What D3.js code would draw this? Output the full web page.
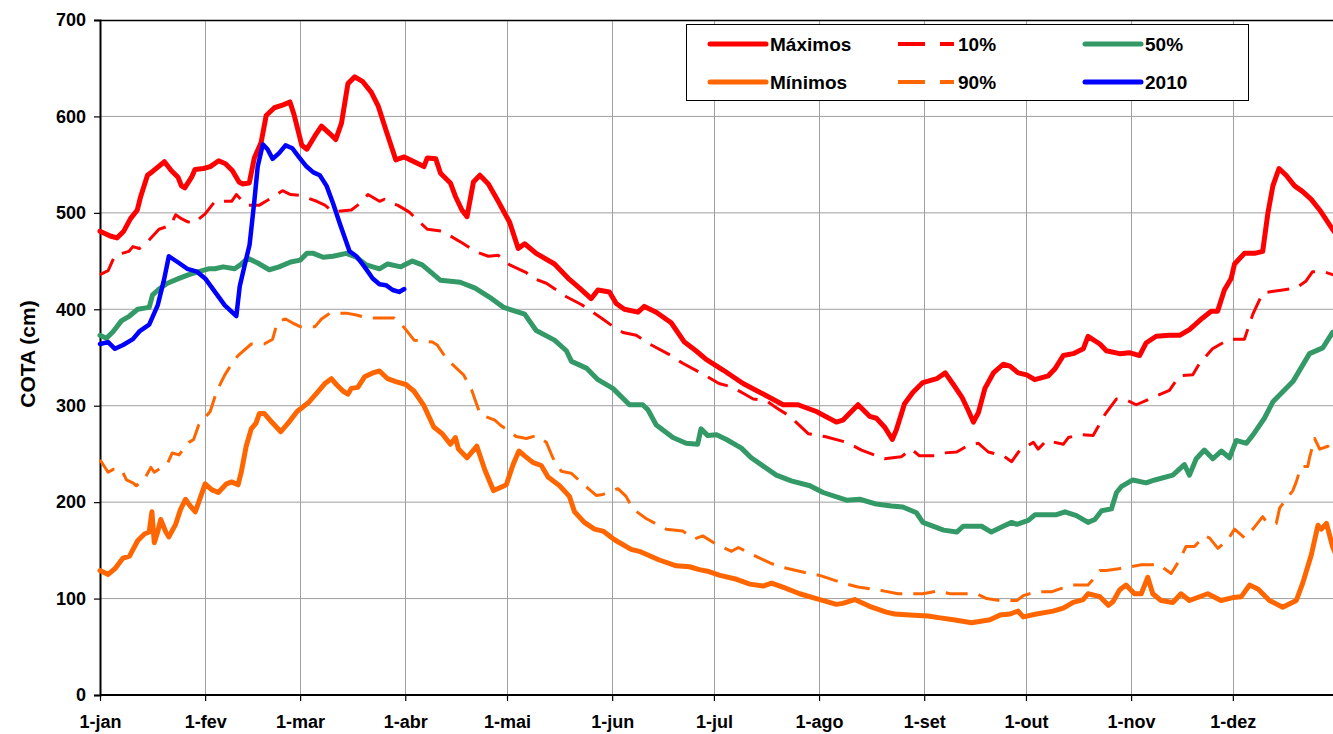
<!DOCTYPE html>
<html lang="pt">
<head>
  <meta charset="UTF-8">
  <title>COTA (cm)</title>
  <script src="https://cdnjs.cloudflare.com/ajax/libs/d3/7.8.5/d3.min.js"></script>
  <style>
    html, body { margin: 0; padding: 0; background: #fff; }
    svg text { font-family: "Liberation Sans", Arial, sans-serif; font-weight: bold; fill: #000; }
  </style>
</head>
<body>
  <div id="chart"></div>
  <script>
    // month ticks (day of year) and labels
    const monthDays = [0, 31, 59, 90, 120, 151, 181, 212, 243, 273, 304, 334];
    const monthLabels = ["1-jan", "1-fev", "1-mar", "1-abr", "1-mai", "1-jun", "1-jul", "1-ago", "1-set", "1-out", "1-nov", "1-dez"];
    const yTicks = [0, 100, 200, 300, 400, 500, 600, 700];

    // series: [day of year, cota in cm]
    const maximos = [[0,481],[3,476],[5,474],[7,481],[9,494],[11,503],[12,517],[14,539],[15.5,543],[19,553],[21,544],[23,537],[24,528],[25,526],[27,537],[28,545],[30.5,546],[32.5,548],[35,554],[37,551],[39,544],[41,532],[42,530],[44,531],[45.5,557],[47.5,573],[49,601],[51.4,609],[54,612],[56,615],[57.2,602],[59.5,570],[61,566],[63.4,580],[65.3,590],[67.8,582],[69.5,576],[71.2,593],[73.1,634],[75.1,641],[77.5,636],[80,625],[82,611],[84.3,586],[87.2,555],[89.7,558],[92.6,553],[95.5,548],[96.5,557],[99,556],[100.4,541],[103.3,531],[104.8,517],[106.7,503],[108.2,496],[110.1,532],[112,539],[114.5,530],[117.4,512],[120.8,490],[123.3,463],[125.2,468],[128.6,458],[134,447],[138.4,431],[141.4,422],[144.8,411],[146.8,420],[150.2,418],[152.2,406],[154.6,400],[158.6,397],[160.5,403],[164,397],[168.4,386],[172.3,366],[175.7,357],[178.7,348],[183.7,337],[189.6,323],[194.5,314],[201.4,301],[205.8,301],[211.2,294],[217.1,283],[219,285],[223.5,301],[226.9,289],[228.9,287],[231.3,278],[233.6,265],[234.8,275],[237.2,302],[239.7,314],[242.6,324],[246.7,328],[249.2,334],[251.6,322],[254.1,309],[256,295],[257.5,283],[259,293],[260.9,318],[263.4,334],[266.3,343],[268.3,341],[270.7,334],[273.2,332],[275.6,327],[279.6,331],[281.5,338],[284,352],[286.9,354],[289.9,359],[291.3,372],[294.8,364],[296.7,357],[300.6,354],[303.5,355],[306.5,352],[308.4,365],[311.4,372],[315.3,373],[318.3,373],[321.2,379],[325.1,391],[327.6,398],[329.5,398],[331.5,420],[333.5,432],[334.5,447],[337.4,458],[340.4,458],[342.8,460],[344.3,499],[345.8,528],[347.6,546],[349.7,539],[352.2,528],[354.6,522],[357.1,514],[359.6,503],[363.4,483],[365,475]];

    const minimos = [[0,129],[2.4,125],[4.4,131],[6.8,142],[8.7,144],[11.1,160],[13.1,167],[14.5,169],[15.3,190],[16,158],[17,169],[17.9,182],[19.4,169],[20.3,164],[22.3,177],[23.7,192],[25.2,203],[26.6,196],[28.1,190],[29.6,205],[31,219],[32.9,213],[34.9,210],[37.3,219],[38.8,221],[40.7,218],[41.7,232],[43.1,258],[44.6,276],[46,282],[47,292],[48.4,292],[50.9,282],[53.3,273],[55.7,283],[58.1,294],[61.4,303],[63.9,313],[66.3,323],[68.2,328],[69.7,322],[71.7,315],[73.1,312],[74.1,318],[76,319],[78,330],[80.4,334],[82.4,336],[84.8,328],[87.2,325],[90.2,322],[92.6,315],[95.5,300],[98.4,278],[100.9,271],[103.3,260],[104.8,267],[105.7,255],[108.2,246],[111.1,258],[113.5,233],[116,212],[117.9,215],[119.8,218],[121.8,239],[123.5,253],[125.2,248],[127.7,241],[130.1,238],[132.1,226],[135.5,217],[138.4,206],[139.9,190],[142.8,179],[145.8,172],[148.3,170],[151.7,161],[156.6,151],[159,149],[164.9,140],[169.9,134],[173.8,133],[176.7,130],[179.5,128],[182.8,124],[187.7,120],[191.6,115],[195.5,113],[198,116],[201.9,111],[206.3,105],[211.2,100],[217.1,94],[219,95],[222.5,99],[226.9,92],[231.8,86],[234.3,84],[238.7,83],[244.1,82],[247.7,80],[251.6,78],[257,75],[262.4,78],[265.4,83],[268.3,84],[270.7,87],[272.2,81],[276.1,84],[281,87],[284,90],[286.9,96],[289.9,99],[291.3,105],[294.8,102],[297.3,93],[298.7,97],[300.6,109],[302.5,114],[305,105],[307,105],[308.9,122],[310.4,105],[312.8,98],[316.3,96],[318.7,105],[321.2,98],[326.6,105],[330.5,98],[334,101],[336.5,102],[338.9,114],[341.4,110],[344.8,98],[348.7,91],[352.7,98],[354.6,116],[357.1,145],[359.1,176],[360.1,172],[361.6,178],[363.4,154],[365,140]];

    const p10 = [[0,436],[2.4,440],[4.4,456],[6.5,458],[8.5,460],[9.7,465],[11.6,463],[14,470],[17.4,483],[20.8,487],[22.3,498],[24,494],[25.7,491],[27.6,489],[31,499],[33.9,512],[38.8,512],[40.2,519],[43.1,508],[47,508],[49.4,513],[53.8,523],[56.2,519],[59.1,518],[63.9,512],[66.3,508],[68.7,501],[74.1,503],[76,508],[79,519],[82.4,512],[83.8,514],[85.8,510],[87.7,508],[91.1,501],[96.5,483],[100.9,481],[106.7,469],[110.6,460],[114.5,455],[117.4,456],[120.8,446],[125.7,438],[127.2,433],[131.6,427],[137.5,413],[141.9,405],[147.8,391],[151.7,381],[154.2,376],[158.1,373],[162,364],[168.4,352],[171.8,344],[178.2,332],[182.5,323],[185.7,320],[189.1,314],[192.6,307],[196.5,305],[199.4,298],[203.4,289],[208.8,271],[213.7,268],[220.1,262],[224.5,254],[231.3,245],[236.2,247],[239.2,255],[241.6,248],[246.2,248],[248.7,251],[252.6,252],[256,259],[259,261],[261.9,252],[266.3,248],[268.8,242],[271.2,254],[275.2,262],[276.6,255],[279.1,264],[284,260],[285.5,267],[288.9,270],[292.8,269],[296.3,291],[299.7,307],[302,307],[305.5,301],[309.4,307],[315.3,316],[318.3,331],[322.2,332],[324.2,344],[328,359],[332.9,369],[337.4,369],[339.9,395],[342.8,417],[348.7,420],[352.6,422],[355.5,429],[357.5,439],[360.9,439],[363.4,436],[365,434]];

    const p90 = [[0,244],[2.4,231],[3.9,234],[6.3,234],[7.8,223],[9.7,220],[10.7,217],[13.1,224],[15,236],[16,231],[19.9,240],[21.3,251],[23.3,249],[26.2,262],[27.6,265],[29.1,280],[32.5,294],[34.4,315],[36.8,332],[38.8,343],[40.7,352],[44.6,364],[48.4,364],[50.9,369],[52.3,387],[54.7,390],[56.7,386],[59,382],[63.4,382],[65.3,390],[67.8,396],[72.6,396],[75.6,394],[79,391],[83.3,391],[86.8,391],[89.7,381],[92.6,368],[98,366],[99.4,363],[102.3,348],[107.2,332],[109.6,316],[112.1,291],[116.4,285],[118,280],[120.8,273],[122.7,268],[125.7,266],[128.6,269],[131.6,262],[133.5,246],[136,232],[138.9,230],[142.4,219],[146.3,207],[148.3,208],[152.7,214],[155.1,206],[157.1,193],[161,183],[166.9,172],[171.8,170],[175.3,162],[177.7,165],[181.8,156],[186.2,149],[188.2,153],[192.1,146],[197.5,137],[200.4,133],[207.8,127],[212.2,124],[219.1,116],[223.5,112],[230.9,108],[235.3,105],[242.6,105],[247.2,108],[250.6,105],[254.1,105],[258.5,105],[261.4,100],[265.4,98],[270.3,98],[272.2,103],[276.1,107],[280.5,107],[283,110],[286.9,114],[291.3,114],[292.8,120],[294.8,129],[296.7,129],[300.4,131],[304,133],[307,135],[309.9,135],[311.9,136],[315.8,126],[318.3,140],[320.2,154],[322.7,154],[325.6,165],[327.1,163],[329.6,152],[332.5,161],[334.5,172],[337.4,163],[339.9,172],[342.8,185],[343.8,180],[346.8,178],[347.8,194],[349.7,203],[351.7,212],[352.7,221],[354.1,237],[356.1,237],[356.6,246],[358.1,266],[359.6,255],[362,258],[363.4,250],[365,255]];

    const p50 = [[0,373],[1.9,370],[3.9,377],[6.3,388],[8.7,393],[11.1,400],[14.5,402],[15.5,415],[17.4,421],[19.9,427],[23.3,432],[26.2,436],[29.1,439],[32,442],[33.9,442],[36.3,444],[39.7,442],[41.7,447],[43.6,453],[46.5,448],[49.9,441],[52.8,444],[56.2,449],[59,451],[61,458],[62.9,458],[65.8,454],[68.7,455],[72.6,458],[75.6,454],[78.5,446],[82.4,442],[84.8,447],[88.7,444],[92.1,450],[95,446],[100.4,430],[106.2,428],[110.6,422],[115.5,411],[119,402],[125.2,395],[128.6,378],[134,368],[137.5,357],[139,346],[143.4,339],[146.8,327],[151.2,318],[156.1,301],[160,301],[161.5,296],[164,280],[168.9,267],[172.8,261],[176.2,260],[177.2,276],[179.2,269],[181.8,270],[184.7,265],[189.1,256],[192,246],[199.4,228],[203.8,222],[209.3,217],[213.2,210],[220.1,202],[224,203],[228.9,198],[233.3,196],[236.7,195],[240.7,189],[242.6,179],[248.7,171],[252.6,169],[254.5,175],[259.9,175],[262.8,169],[266.3,175],[268.8,179],[270.3,177],[273.7,181],[275.7,187],[282,187],[284.5,190],[287.9,186],[291.3,179],[293.3,182],[295.3,191],[298.2,193],[299.7,210],[301.1,216],[304.5,223],[308.4,220],[311,223],[316.3,228],[319.7,239],[321.2,228],[323.2,245],[325.6,254],[328.1,245],[330.6,253],[333,246],[335,264],[338,261],[340,270],[343.3,287],[345.8,304],[351.7,325],[356.6,354],[360.5,360],[363.4,376],[365,378]];

    const y2010 = [[0,364],[2.4,366],[4.4,359],[6.8,363],[9.7,369],[11.6,377],[14.5,384],[17,404],[18.9,431],[20.3,455],[23.3,448],[25.7,442],[28.6,439],[31,432],[33.9,418],[36.8,404],[40.2,393],[41.2,424],[42.6,445],[44.1,467],[45.5,512],[46.5,548],[48,571],[49.4,566],[50.9,556],[52.8,562],[54.7,570],[56.7,567],[58.6,558],[60.9,548],[62.9,542],[64.8,539],[66.8,528],[68.7,510],[70.7,489],[73.6,460],[75.6,455],[78,444],[80.4,432],[82.4,426],[84.3,425],[86.3,420],[88.2,418],[89.7,421]];

    const series = [
      {name: "Máximos", data: maximos, color: "#ff0000", width: 5, dash: null},
      {name: "Mínimos", data: minimos, color: "#ff6600", width: 5, dash: null},
      {name: "10%", data: p10, color: "#ff0000", width: 3, dash: "22,11"},
      {name: "90%", data: p90, color: "#ff6600", width: 3, dash: "22,11"},
      {name: "50%", data: p50, color: "#339966", width: 5, dash: null},
      {name: "2010", data: y2010, color: "#0000ff", width: 4.5, dash: null}
    ];

    const W = 1333, H = 734;
    const plotLeft = 100, plotTop = 20, plotBottom = 695;

    const svg = d3.select("#chart").append("svg")
      .attr("width", W)
      .attr("height", H);

    const x = d3.scaleLinear().domain([0, 365]).range([plotLeft, 1338]);
    const y = d3.scaleLinear().domain([0, 700]).range([plotBottom, plotTop]);

    // gridlines
    svg.append("g")
      .selectAll("line")
      .data(yTicks.filter(d => d > 0 && d < 700))
      .enter().append("line")
      .attr("x1", plotLeft).attr("x2", W)
      .attr("y1", d => y(d)).attr("y2", d => y(d))
      .attr("stroke", "#a0a0a0").attr("stroke-width", 1);

    svg.append("g")
      .selectAll("line")
      .data(monthDays.slice(1))
      .enter().append("line")
      .attr("x1", d => Math.round(x(d)) + 0.5).attr("x2", d => Math.round(x(d)) + 0.5)
      .attr("y1", plotTop).attr("y2", plotBottom)
      .attr("stroke", "#a0a0a0").attr("stroke-width", 1);

    // frame top
    svg.append("line")
      .attr("x1", plotLeft).attr("x2", W).attr("y1", plotTop + 0.5).attr("y2", plotTop + 0.5)
      .attr("stroke", "#000").attr("stroke-width", 1.5);

    // axes
    const yAxis = svg.append("g")
      .attr("transform", `translate(${plotLeft},0)`)
      .call(d3.axisLeft(y).tickValues(yTicks).tickSize(6).tickPadding(8));
    const xAxis = svg.append("g")
      .attr("transform", `translate(0,${plotBottom})`)
      .call(d3.axisBottom(x).tickValues(monthDays).tickSize(6).tickPadding(14)
        .tickFormat((d, i) => monthLabels[i]));

    [yAxis, xAxis].forEach(a => {
      a.select(".domain").attr("stroke", "#000").attr("stroke-width", 2);
      a.selectAll(".tick line").attr("stroke", "#000").attr("stroke-width", 1.2);
      a.selectAll(".tick text")
        .style("font-family", '"Liberation Sans", Arial, sans-serif')
        .style("font-weight", "bold")
        .style("font-size", "18px")
        .attr("fill", "#000");
    });
    xAxis.select(".domain").attr("d", `M${plotLeft},0H${W}`);

    // y title
    svg.append("text")
      .attr("transform", "translate(35,354) rotate(-90)")
      .attr("text-anchor", "middle")
      .style("font-size", "21px")
      .text("COTA (cm)");

    // lines
    const line = d3.line()
      .x(d => x(d[0]))
      .y(d => y(d[1]));

    const plot = svg.append("g");
    series.forEach(s => {
      plot.append("path")
        .datum(s.data)
        .attr("d", line)
        .attr("fill", "none")
        .attr("stroke", s.color)
        .attr("stroke-width", s.width)
        .attr("stroke-linejoin", "round")
        .attr("stroke-linecap", s.dash ? "butt" : "round")
        .attr("stroke-dasharray", s.dash);
    });

    // legend
    const legendOrder = [
      [series[0], series[2], series[4]],
      [series[1], series[3], series[5]]
    ];
    const colX = [710, 898, 1085];
    const rowY = [44, 82];

    const legend = svg.append("g");
    legend.append("rect")
      .attr("x", 686.5).attr("y", 24.5)
      .attr("width", 562).attr("height", 76)
      .attr("fill", "#fff")
      .attr("stroke", "#000").attr("stroke-width", 1);

    legendOrder.forEach((row, r) => {
      row.forEach((s, c) => {
        legend.append("line")
          .attr("x1", colX[c]).attr("x2", colX[c] + 56)
          .attr("y1", rowY[r]).attr("y2", rowY[r])
          .attr("stroke", s.color)
          .attr("stroke-width", s.dash ? 4 : 5)
          .attr("stroke-linecap", s.dash ? "butt" : "round")
          .attr("stroke-dasharray", s.dash ? "27,15" : null);
        legend.append("text")
          .attr("x", colX[c] + 60)
          .attr("y", rowY[r] + 7)
          .style("font-size", "19px")
          .text(s.name);
      });
    });
  </script>
</body>
</html>
